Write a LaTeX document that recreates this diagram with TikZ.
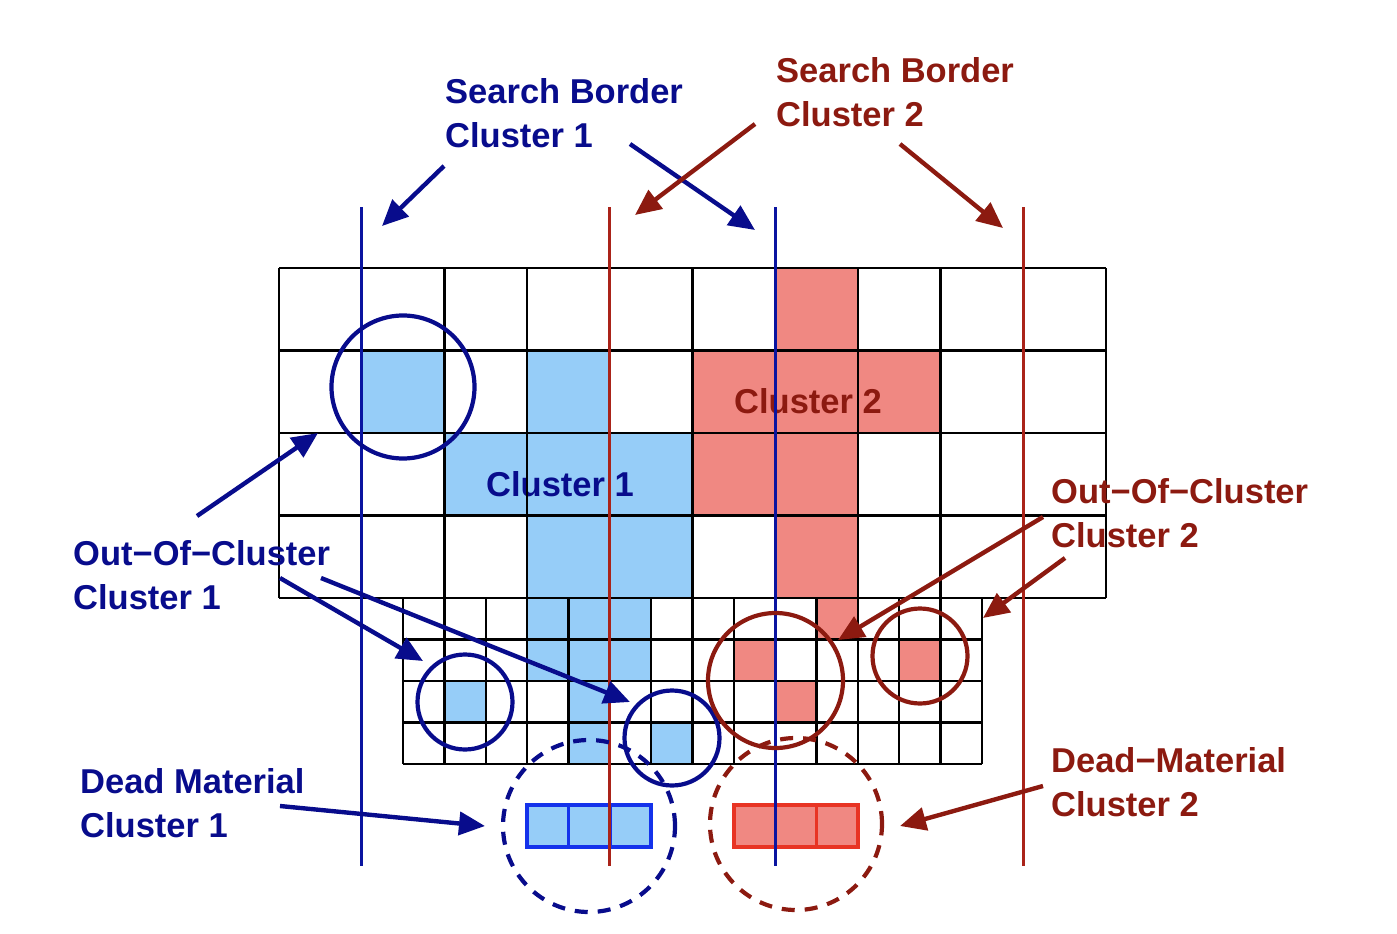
\documentclass[tikz,border=0pt]{standalone}
\usepackage{fontspec}
\setmainfont{Liberation Sans}
\usetikzlibrary{arrows.meta}
\definecolor{cnavy}{RGB}{8,12,140}
\definecolor{cdred}{RGB}{140,26,16}
\definecolor{clblue}{RGB}{150,205,248}
\definecolor{cpink}{RGB}{240,136,130}
\definecolor{cbedge}{RGB}{20,50,235}
\definecolor{credge}{RGB}{232,52,36}
\definecolor{cvblue}{RGB}{10,20,160}
\definecolor{cvred}{RGB}{170,35,25}
\begin{document}
\begin{tikzpicture}[x=1pt,y=-1pt,
  gridline/.style={black,line width=2.4pt},
  bcell/.style={fill=clblue,draw=cbedge,line width=2pt},
  rcell/.style={fill=cpink,draw=credge,line width=2pt},
  vborder/.style={line width=3.2pt},
  lbl/.style={font=\bfseries\fontsize{34.5}{44}\selectfont,align=left,anchor=west,inner sep=0pt},
  clbl/.style={font=\bfseries\fontsize{34.5}{44}\selectfont,inner sep=0pt},
  arr/.style={line width=4.4pt,-{Triangle[length=26pt,width=23pt]}},
  ring/.style={circle,draw,line width=4.2pt,inner sep=0pt},
  dring/.style={circle,draw,line width=4.2pt,inner sep=0pt,dash pattern=on 13pt off 10pt},
  dmb/.style={fill=clblue,draw=cbedge,line width=4.4pt},
  dmr/.style={fill=cpink,draw=credge,line width=4.4pt}]
\useasboundingbox (0,0) rectangle (1397,934);
% ---- cluster cells (upper grid, unit 82.7 x 82.5) ----
\foreach \i/\j in {1/1,3/1,2/2,3/2,4/2,3/3,4/3}
  \draw[bcell] ({279+\i*82.7},{268+\j*82.5}) rectangle ++(82.7,82.5);
\foreach \i/\j in {6/0,5/1,6/1,7/1,5/2,6/2,6/3}
  \draw[rcell] ({279+\i*82.7},{268+\j*82.5}) rectangle ++(82.7,82.5);
% ---- cluster cells (lower grid, unit 41.35 x 41.5) ----
\foreach \k/\r in {3/0,4/0,5/0,3/1,4/1,5/1,4/2,1/2,4/3,6/3}
  \draw[bcell] ({403.05+\k*41.35},{598+\r*41.5}) rectangle ++(41.35,41.5);
\foreach \k/\r in {10/0,8/1,12/1,9/2}
  \draw[rcell] ({403.05+\k*41.35},{598+\r*41.5}) rectangle ++(41.35,41.5);
% ---- cluster names ----
\node[clbl,text=cnavy] (cl1) at (560,484) {Cluster 1};
\node[clbl,text=cdred] (cl2) at (808,401) {Cluster 2};
% ---- grids ----
\foreach \i in {0,...,10}
  \draw[gridline] ({279+\i*82.7},268) -- ({279+\i*82.7},598);
\foreach \j in {0,...,4}
  \draw[gridline] (279,{268+\j*82.5}) -- (1106,{268+\j*82.5});
\foreach \k in {0,...,14}
  \draw[gridline] ({403.05+\k*41.35},598) -- ({403.05+\k*41.35},764);
\foreach \r in {1,...,4}
  \draw[gridline] (403.05,{598+\r*41.5}) -- (981.95,{598+\r*41.5});
% ---- dead material ----
\draw[dmb] (527.1,805) rectangle (651.15,847);
\draw[cbedge,line width=3.4pt] (568.45,805) -- (568.45,847) (609.8,805) -- (609.8,847);
\draw[dmr] (733.85,805) rectangle (857.9,847);
\draw[credge,line width=3.4pt] (775.2,805) -- (775.2,847) (816.55,805) -- (816.55,847);
% ---- search borders ----
\draw[vborder,cvblue] (361.7,207) -- (361.7,866);
\draw[vborder,cvred] (609.8,207) -- (609.8,866);
\draw[vborder,cvblue] (775.2,207) -- (775.2,866);
\draw[vborder,cvred] (1023.3,207) -- (1023.3,866);
% ---- rings ----
\node[ring,draw=cnavy,minimum size=143pt] (ringA) at (403,387) {};
\node[ring,draw=cnavy,minimum size=95pt] (ringB) at (465,702) {};
\node[ring,draw=cnavy,minimum size=95pt] (ringC) at (672,738) {};
\node[ring,draw=cdred,minimum size=135pt] (ringD) at (775.5,680.5) {};
\node[ring,draw=cdred,minimum size=95pt] (ringE) at (920,656) {};
\node[dring,draw=cnavy,minimum size=172pt] (dringB) at (589,826) {};
\node[dring,draw=cdred,minimum size=172pt] (dringR) at (796,824) {};
% ---- labels ----
\node[lbl,text=cnavy] (sb1) at (445,113) {Search Border\\Cluster 1};
\node[lbl,text=cdred] (sb2) at (776,92) {Search Border\\Cluster 2};
\node[lbl,text=cnavy] (ooc1) at (73,575) {Out−Of−Cluster\\Cluster 1};
\node[lbl,text=cdred] (ooc2) at (1051,513) {Out−Of−Cluster\\Cluster 2};
\node[lbl,text=cnavy] (dm1) at (80,803) {Dead Material\\Cluster 1};
\node[lbl,text=cdred] (dm2) at (1051,782) {Dead−Material\\Cluster 2};
% ---- arrow end points ----
\coordinate (sb1s1) at (444,166); \coordinate (sb1t1) at (382,226);
\coordinate (sb1s2) at (630,144); \coordinate (sb1t2) at (755,230);
\coordinate (sb2s1) at (755,124); \coordinate (sb2t1) at (635,215);
\coordinate (sb2s2) at (900,144); \coordinate (sb2t2) at (1003,228);
\coordinate (oo1s1) at (197,516); \coordinate (oo1t1) at (318,433);
\coordinate (oo1s2) at (280,578); \coordinate (oo1t2) at (423,661);
\coordinate (oo1s3) at (321,578); \coordinate (oo1t3) at (630,702);
\coordinate (oo2s1) at (1043,517); \coordinate (oo2t1) at (838,640);
\coordinate (oo2s2) at (1065,558); \coordinate (oo2t2) at (983,618);
\coordinate (dm1s) at (280,806); \coordinate (dm1t) at (485,826);
\coordinate (dm2s) at (1043,786); \coordinate (dm2t) at (900,826);
% ---- arrows ----
\draw[arr,cnavy] (sb1s1) -- (sb1t1);
\draw[arr,cnavy] (sb1s2) -- (sb1t2);
\draw[arr,cdred] (sb2s1) -- (sb2t1);
\draw[arr,cdred] (sb2s2) -- (sb2t2);
\draw[arr,cnavy] (oo1s1) -- (oo1t1);
\draw[arr,cnavy] (oo1s2) -- (oo1t2);
\draw[arr,cnavy] (oo1s3) -- (oo1t3);
\draw[arr,cdred] (oo2s1) -- (oo2t1);
\draw[arr,cdred] (oo2s2) -- (oo2t2);
\draw[arr,cnavy] (dm1s) -- (dm1t);
\draw[arr,cdred] (dm2s) -- (dm2t);
\end{tikzpicture}
\end{document}
